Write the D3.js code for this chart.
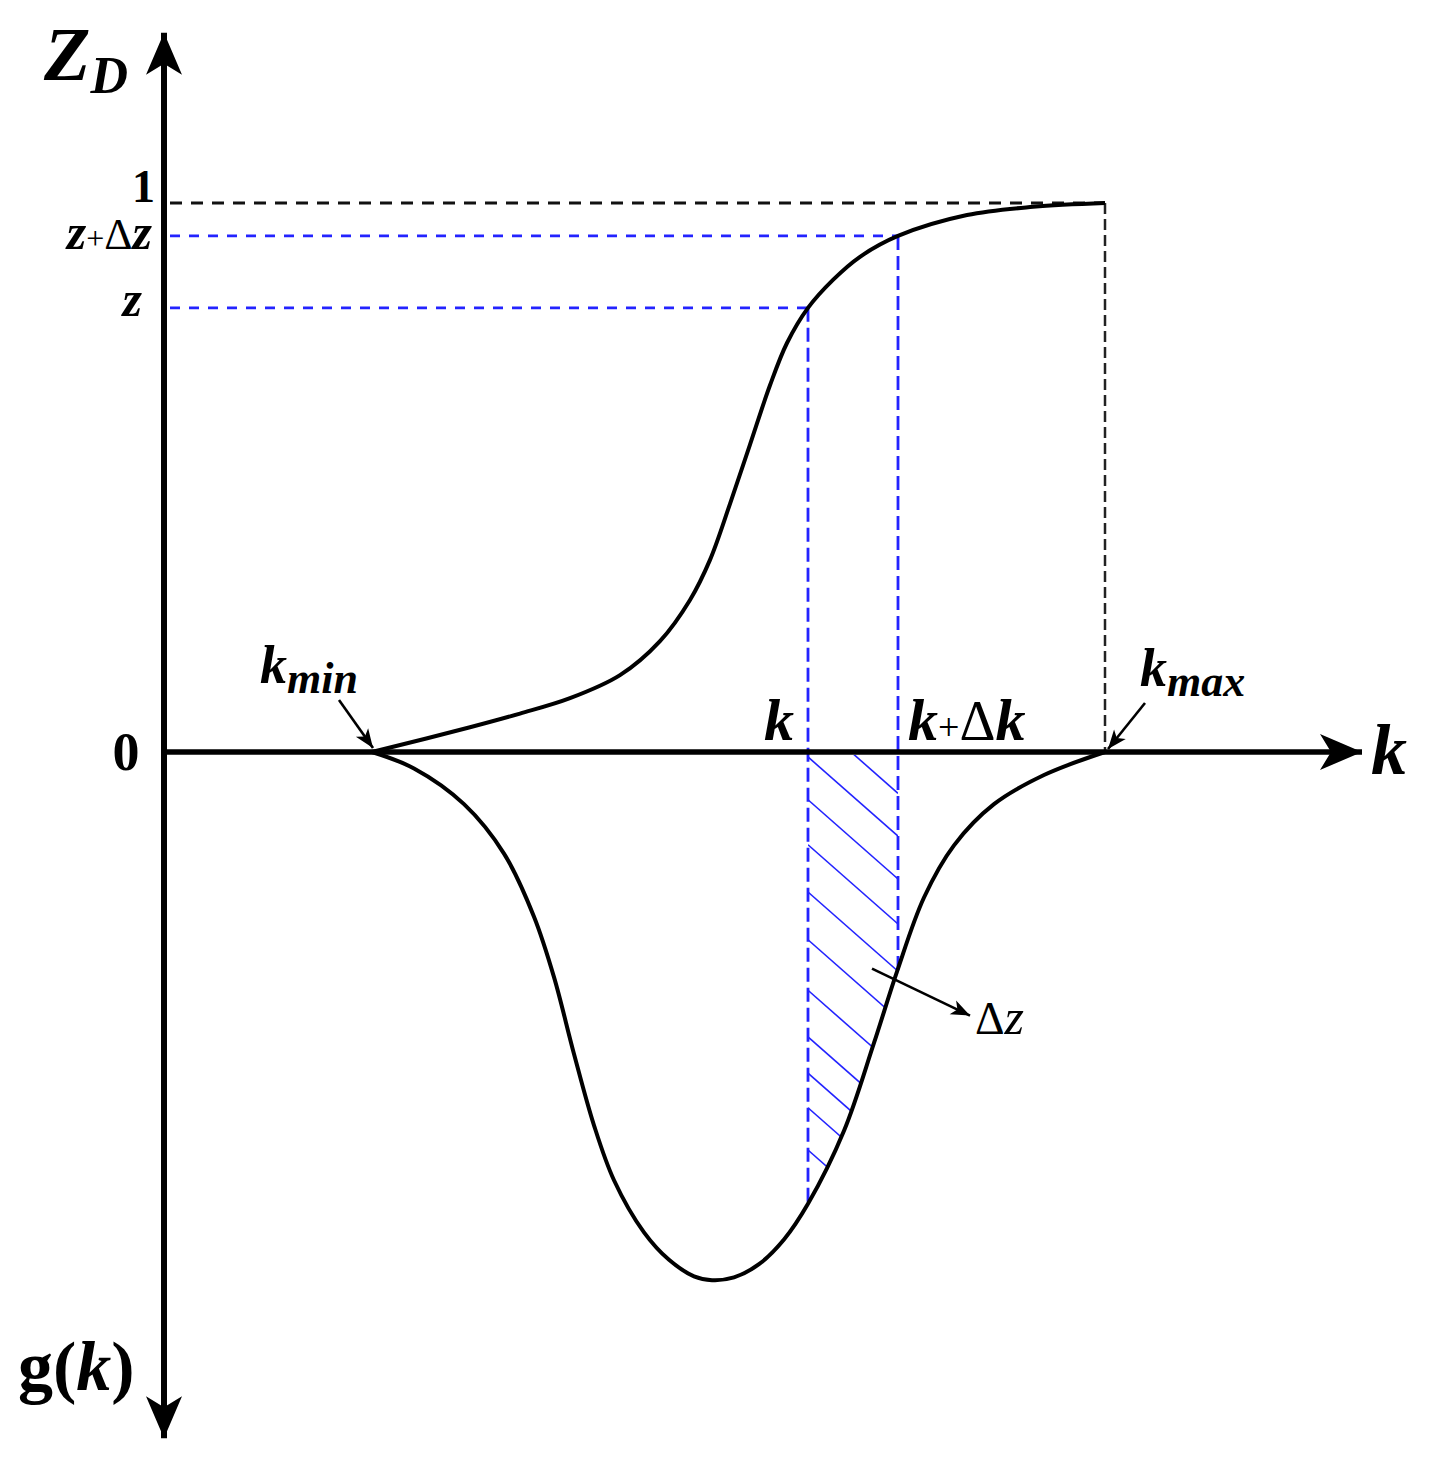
<!DOCTYPE html>
<html>
<head>
<meta charset="utf-8">
<script src="https://cdn.jsdelivr.net/npm/d3@7"></script>
<style>
  html, body { margin: 0; padding: 0; background: #fff; }
  svg { display: block; }
  text { font-family: "Liberation Serif", "Times New Roman", serif; fill: #000; }
</style>
</head>
<body>
<svg id="chart" width="1430" height="1458"></svg>
<script>
// ---------- data ----------
// cumulative curve Z_D(k)
const cdfK = [2.08, 3.06, 3.56, 4.06, 4.56, 4.96, 5.26, 5.46, 5.66, 5.86, 6.06, 6.23, 6.44, 6.69, 6.96, 7.34, 8.03, 8.69, 9.41];
const cdfZ = [0, 0.045, 0.070, 0.098, 0.140, 0.202, 0.277, 0.350, 0.452, 0.560, 0.668, 0.745, 0.809, 0.860, 0.902, 0.940, 0.978, 0.993, 1.0];
// distribution g(k) (drawn downward)
const pdfK = [2.08, 2.5, 3.0, 3.4, 3.7, 3.9, 4.1, 4.3, 4.5, 4.8, 5.05, 5.3, 5.48, 5.7, 5.95, 6.2, 6.44, 6.8, 7.1, 7.33, 7.6, 7.9, 8.3, 8.8, 9.41];
const pdfG = [0, -0.030, -0.095, -0.185, -0.300, -0.410, -0.550, -0.680, -0.780, -0.875, -0.925, -0.955, -0.962, -0.957, -0.933, -0.888, -0.823, -0.690, -0.530, -0.400, -0.265, -0.170, -0.095, -0.042, 0];
// key values
const kMin = 2.08, kMax = 9.41;
const kVal = 6.44, kDkVal = 7.34;
const zVal = 0.809, zDzVal = 0.940;
const gAtK = -0.823, gAtKdk = -0.400;
// hatch line start levels (at k)
const hatchStarts = [0.069, -0.009, -0.087, -0.169, -0.255, -0.342, -0.434, -0.519, -0.585, -0.648, -0.725];
// axis extents
const axisTop = 1.31, axisBottom = -1.25, axisRight = 11.98;
// y tick labels
const yTickValues = [1, zDzVal, zVal, 0];

// ---------- scales ----------
const x = d3.scaleLinear().domain([0, 12]).range([164, 1364]);
const y = d3.scaleLinear().domain([0, 1]).range([752, 203]);

const svg = d3.select("#chart");
const defs = svg.append("defs");

const BLUE = "#2323ff";

// small arrowhead marker
defs.append("marker").attr("id", "ah").attr("markerUnits", "userSpaceOnUse")
  .attr("viewBox", "-20 -8 22 16").attr("refX", 0).attr("refY", 0)
  .attr("markerWidth", 22).attr("markerHeight", 16).attr("orient", "auto")
  .append("path").attr("d", "M0,0 L-19,-7.5 L-14,0 L-19,7.5 Z").attr("fill", "#000");
// large axis arrowhead marker
defs.append("marker").attr("id", "axh").attr("markerUnits", "userSpaceOnUse")
  .attr("viewBox", "-44 -20 46 40").attr("refX", 0).attr("refY", 0)
  .attr("markerWidth", 46).attr("markerHeight", 40).attr("orient", "auto")
  .append("path").attr("d", "M0,0 L-42,-18 L-31,0 L-42,18 Z").attr("fill", "#000");

// ---------- dashed guide lines ----------
const x0 = x(0.06);
// black: Z = 1 and k = kmax
svg.append("line").attr("x1", x0).attr("x2", x(kMax)).attr("y1", y(1)).attr("y2", y(1))
  .attr("stroke", "#111").attr("stroke-width", 2.8).attr("stroke-dasharray", "12,9");
svg.append("line").attr("x1", x(kMax)).attr("x2", x(kMax)).attr("y1", y(1)).attr("y2", y(0))
  .attr("stroke", "#222").attr("stroke-width", 2.5).attr("stroke-dasharray", "11,5");
// blue horizontals
svg.append("line").attr("x1", x0).attr("x2", x(kDkVal)).attr("y1", y(zDzVal)).attr("y2", y(zDzVal))
  .attr("stroke", BLUE).attr("stroke-width", 2.8).attr("stroke-dasharray", "10,9");
svg.append("line").attr("x1", x0).attr("x2", x(kVal)).attr("y1", y(zVal)).attr("y2", y(zVal))
  .attr("stroke", BLUE).attr("stroke-width", 2.8).attr("stroke-dasharray", "10,9");
// blue verticals
svg.append("line").attr("x1", x(kVal)).attr("x2", x(kVal)).attr("y1", y(zVal)).attr("y2", y(gAtK))
  .attr("stroke", BLUE).attr("stroke-width", 2.8).attr("stroke-dasharray", "14,6");
svg.append("line").attr("x1", x(kDkVal)).attr("x2", x(kDkVal)).attr("y1", y(zDzVal)).attr("y2", y(gAtKdk))
  .attr("stroke", BLUE).attr("stroke-width", 2.8).attr("stroke-dasharray", "14,6");

// ---------- hatch between k and k+dk under the g curve ----------
const pdfData = pdfK.map((k, i) => ({k, g: pdfG[i]}));
const cdfData = cdfK.map((k, i) => ({k, z: cdfZ[i]}));
const curve = d3.curveCatmullRom.alpha(0.5);
const areaGen = d3.area().x(d => x(d.k)).y0(y(0)).y1(d => y(d.g)).curve(curve);
defs.append("clipPath").attr("id", "clipArea").append("path").attr("d", areaGen(pdfData));
defs.append("clipPath").attr("id", "clipBand").append("rect")
  .attr("x", x(kVal)).attr("y", y(0) + 3).attr("width", x(kDkVal) - x(kVal)).attr("height", y(-1.2) - y(0));
const hatchSlope = 0.88; // px down per px right
const hg = svg.append("g").attr("clip-path", "url(#clipBand)")
  .append("g").attr("clip-path", "url(#clipArea)");
hg.selectAll("line").data(hatchStarts).join("line")
  .attr("x1", x(kVal)).attr("y1", d => y(d))
  .attr("x2", x(kDkVal)).attr("y2", d => y(d) + hatchSlope * (x(kDkVal) - x(kVal)))
  .attr("stroke", BLUE).attr("stroke-width", 1.6);

// ---------- curves ----------
const lineCdf = d3.line().x(d => x(d.k)).y(d => y(d.z)).curve(curve);
const linePdf = d3.line().x(d => x(d.k)).y(d => y(d.g)).curve(curve);
svg.append("path").attr("d", lineCdf(cdfData)).attr("fill", "none").attr("stroke", "#000").attr("stroke-width", 4);
svg.append("path").attr("d", linePdf(pdfData)).attr("fill", "none").attr("stroke", "#000").attr("stroke-width", 4);

// ---------- axes ----------
svg.append("line").attr("x1", x(0)).attr("x2", x(0)).attr("y1", y(0)).attr("y2", y(axisTop))
  .attr("stroke", "#000").attr("stroke-width", 6).attr("marker-end", "url(#axh)");
svg.append("line").attr("x1", x(0)).attr("x2", x(0)).attr("y1", y(0)).attr("y2", y(axisBottom))
  .attr("stroke", "#000").attr("stroke-width", 6).attr("marker-end", "url(#axh)");
svg.append("line").attr("x1", x(0) - 3).attr("x2", x(axisRight)).attr("y1", y(0)).attr("y2", y(0))
  .attr("stroke", "#000").attr("stroke-width", 5.5).attr("marker-end", "url(#axh)");

// ---------- annotation arrows ----------
function arrow(x1, y1, x2, y2) {
  svg.append("line").attr("x1", x1).attr("y1", y1).attr("x2", x2).attr("y2", y2)
    .attr("stroke", "#000").attr("stroke-width", 2.6).attr("marker-end", "url(#ah)");
}
arrow(x(kMin) - 33, y(0) - 52, x(kMin) + 1, y(0) - 4);
arrow(x(kMax) + 40, y(0) - 49, x(kMax) + 3, y(0) - 3);
arrow(x(kDkVal) - 26, y(gAtKdk) - 3, x(kDkVal) + 72, y(gAtKdk) + 44);

// ---------- labels ----------
const BI = {w: "bold", s: "italic"};
function label(px, py, parts, anchor) {
  const t = svg.append("text").attr("x", px).attr("y", py).attr("text-anchor", anchor || "start");
  parts.forEach(p => {
    const ts = t.append("tspan").text(p.t).attr("font-size", p.size)
      .attr("font-weight", p.w || "normal").attr("font-style", p.s || "normal");
    if (p.dy) ts.attr("dy", p.dy);
  });
  return t;
}
// axis titles
label(44, 80, [{t: "Z", size: 76, ...BI}, {t: "D", size: 52, ...BI, dy: 13}]);
label(18, 1390, [{t: "g(", size: 70, w: "bold"}, {t: "k", size: 70, ...BI}, {t: ")", size: 70, w: "bold"}]);
label(x(axisRight) + 9, y(0) + 22, [{t: "k", size: 72, ...BI}]);
// y tick labels
label(x(0) - 9, y(yTickValues[0]) - 1, [{t: "1", size: 46, w: "bold"}], "end");
label(x(0) - 12, y(yTickValues[1]) + 13, [
  {t: "z", size: 50, ...BI}, {t: "+", size: 32}, {t: "Δ", size: 44}, {t: "z", size: 50, ...BI}], "end");
label(x(0) - 22, y(yTickValues[2]) + 8, [{t: "z", size: 50, ...BI}], "end");
label(x(0) - 38, y(yTickValues[3]) + 18, [{t: "0", size: 54, w: "bold"}], "middle");
// k labels
label(x(kMin) - 112, y(0) - 69, [{t: "k", size: 54, ...BI}, {t: "min", size: 44, ...BI, dy: 10}]);
label(x(kMax) + 35, y(0) - 66, [{t: "k", size: 54, ...BI}, {t: "max", size: 44, ...BI, dy: 10}]);
label(x(kVal) - 14, y(0) - 12, [{t: "k", size: 60, ...BI}], "end");
label(x(kDkVal) + 10, y(0) - 12, [{t: "k", size: 60, ...BI}, {t: "+", size: 38}, {t: "Δ", size: 56}, {t: "k", size: 60, ...BI}]);
label(x(kDkVal) + 77, y(gAtKdk) + 62, [{t: "Δ", size: 46}, {t: "z", size: 50, s: "italic"}]);
</script>
</body>
</html>
